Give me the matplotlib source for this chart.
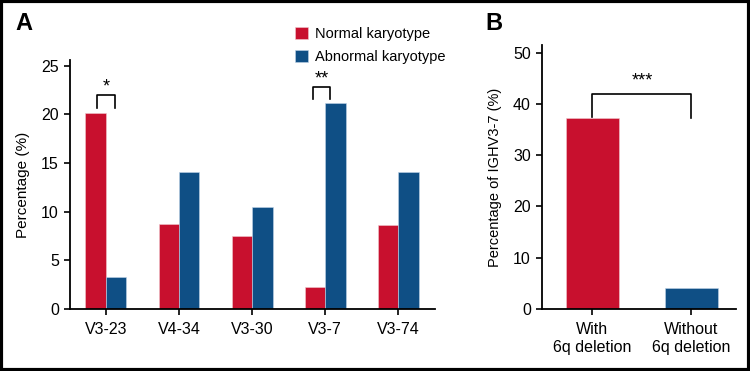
import numpy as np
import matplotlib
matplotlib.use("Agg")
import matplotlib.pyplot as plt
from matplotlib.patches import Rectangle

plt.rcParams['font.family'] = ['Liberation Sans', 'DejaVu Sans']

# panel A data
genes = ["V3-23", "V4-34", "V3-30", "V3-7", "V3-74"]
normal = [20.2, 8.7, 7.5, 2.3, 8.6]
abnormal = [3.3, 14.1, 10.5, 21.2, 14.1]

# panel B data
groups = ["With\n6q deletion", "Without\n6q deletion"]
ighv37 = [37.2, 4.0]

red = "#C8102E"
blue = "#0F4F85"

fig = plt.figure(figsize=(7.5, 3.71), dpi=100)

# ---- panel A
axA = fig.add_axes([70/750, 1 - 309/371, 365/750, 249/371])
x = np.arange(len(genes))
w = 0.28
axA.bar(x - w/2, normal, w, color=red, edgecolor="#f0c8cf", linewidth=0.4, label="Normal karyotype")
axA.bar(x + w/2, abnormal, w, color=blue, edgecolor="#c0d4e8", linewidth=0.4, label="Abnormal karyotype")
axA.set_xlim(-0.49, 4.5)
axA.set_ylim(0, 25.6)
axA.set_yticks([0, 5, 10, 15, 20, 25])
axA.set_xticks(x)
axA.set_xticklabels(genes)
axA.set_ylabel("Percentage (%)", fontsize=11, labelpad=8)


# significance brackets
def bracket(ax, x0, x1, ytop, y0, y1, text, ty):
    ax.plot([x0, x0, x1, x1], [y0, ytop, ytop, y1], color="black", lw=1.2, clip_on=False)
    ax.text((x0 + x1)/2, ty, text, ha="center", va="center", fontsize=13)


bracket(axA, 0 - w/2 + 0.02, 0 + w/2 - 0.02, 22.0, 20.7, 20.7, "*", 22.8)
bracket(axA, 3 - w/2 - 0.03, 3 + w/2 - 0.07, 22.8, 21.6, 21.6, "**", 23.6)

axA.legend(loc="upper left", bbox_to_anchor=(0.58, 1.185), frameon=False,
           handlelength=0.9, handleheight=0.9, handletextpad=0.5, labelspacing=0.6,
           prop={'size': 10.5})

# ---- panel B
axB = fig.add_axes([542/750, 1 - 309/371, 194/750, 264/371])
xb = np.arange(len(groups))
axB.bar(xb, ighv37, 0.53, color=[red, blue], edgecolor=["#f0c8cf", "#c0d4e8"], linewidth=0.4)
axB.set_xlim(-0.51, 1.45)
axB.set_ylim(0, 51.5)
axB.set_yticks([0, 10, 20, 30, 40, 50])
axB.set_xticks(xb)
axB.set_xticklabels(groups, linespacing=1.3)
axB.set_ylabel("Percentage of IGHV3-7 (%)", fontsize=10.5, labelpad=8)
bracket(axB, 0, 1, 42.0, 37.5, 37.2, "***", 44.4)

for ax in (axA, axB):
    for s in ("top", "right"):
        ax.spines[s].set_visible(False)
    ax.spines["left"].set_linewidth(1.3)
    ax.spines["bottom"].set_linewidth(1.3)
    ax.tick_params(axis="both", direction="out", length=4, width=1.2, labelsize=11.5, pad=4)
    ax.tick_params(axis="x", pad=5)

fig.text(15/750, 1 - 23/371, "A", fontsize=17, fontweight="bold", va="center")
fig.text(485/750, 1 - 23/371, "B", fontsize=17, fontweight="bold", va="center")

# outer black frame
fig.patches.append(Rectangle((0.0015, 0.003), 0.997, 0.994, transform=fig.transFigure,
                             fill=False, edgecolor="black", linewidth=3))

fig.savefig("out.png", dpi=100)
